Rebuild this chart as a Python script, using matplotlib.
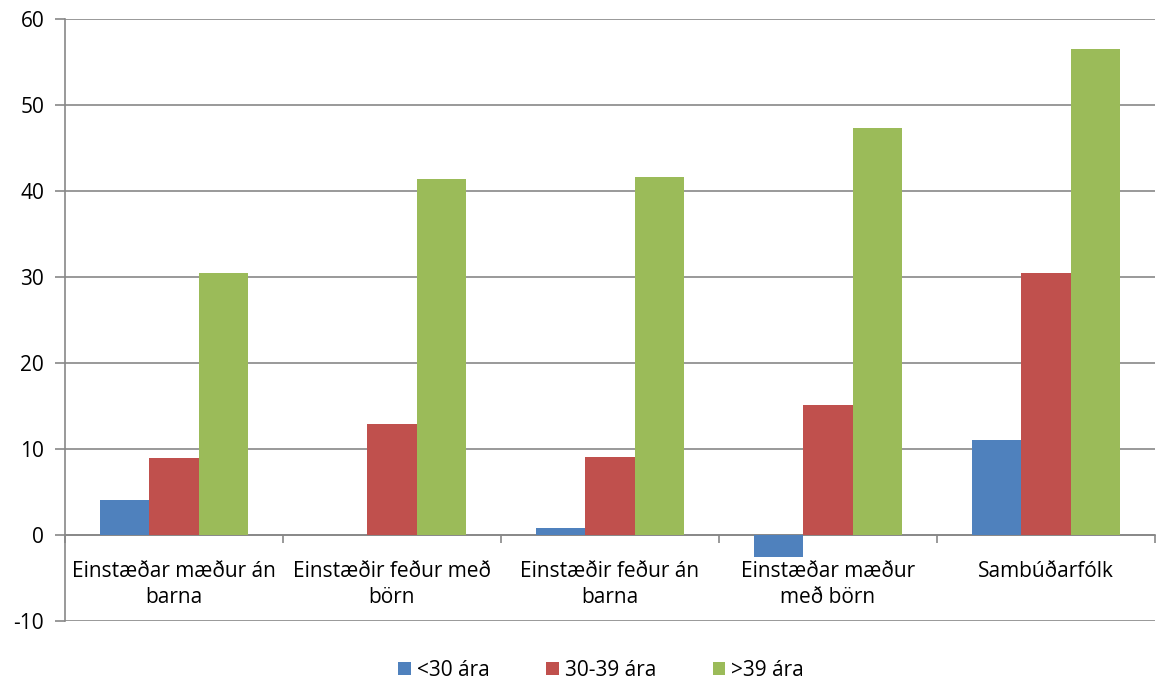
import matplotlib.pyplot as plt
import numpy as np

categories = ['Einstæðar mæður án\nbarna', 'Einstæðir feður með\nbörn', 'Einstæðir feður án\nbarna',
              'Einstæðar mæður\nmeð börn', 'Sambúðarfólk']
under30 = [4.1, 0.0, 0.8, -2.6, 11.0]
age30_39 = [9.0, 12.9, 9.1, 15.1, 30.5]
over39 = [30.5, 41.4, 41.6, 47.3, 56.5]
series_names = ['<30 ára', '30-39 ára', '>39 ára']
colors = ['#4F81BD', '#C0504D', '#9BBB59']

plt.rcParams['font.family'] = ['Open Sans', 'DejaVu Sans']
plt.rcParams['axes.unicode_minus'] = False

fig = plt.figure(figsize=(11.56, 6.82), dpi=100)
ax = fig.add_axes([65 / 1156, 1 - 621 / 682, 1090 / 1156, 602 / 682])

x = np.arange(len(categories))
w = 0.225
for i, (vals, name) in enumerate(zip([under30, age30_39, over39], series_names)):
    ax.bar(x + (i - 1) * w, vals, w, color=colors[i], label=name, zorder=3)

ax.set_xlim(-0.5, len(categories) - 0.5)
ax.set_ylim(-10, 60)
ax.set_yticks(range(-10, 61, 10))
ax.yaxis.grid(True, color='#878787', linewidth=1.2, zorder=0)
ax.tick_params(axis='y', length=7, color='#878787', width=1.2, labelsize=15, pad=8)

# category axis sits on y=0
ax.spines['bottom'].set_position(('data', 0))
ax.spines['bottom'].set_color('#878787')
ax.spines['bottom'].set_linewidth(1.2)
ax.spines['left'].set_color('#878787')
ax.spines['left'].set_linewidth(1.2)
ax.spines['top'].set_visible(False)
ax.spines['right'].set_visible(False)

ax.set_xticks(np.arange(len(categories) + 1) - 0.5)
ax.set_xticklabels([])
ax.tick_params(axis='x', length=6, color='#878787', width=1.2)
for xi, cat in zip(x, categories):
    ax.text(xi, -3.0, cat, ha='center', va='top', fontsize=15, linespacing=1.3)

ax.legend(loc='center', bbox_to_anchor=(0.492, -0.082), ncol=3, frameon=False,
          fontsize=15, handlelength=0.6, handleheight=0.6, columnspacing=2.7, handletextpad=0.3,
          borderpad=0.2)

fig.savefig('out.png', dpi=100)
